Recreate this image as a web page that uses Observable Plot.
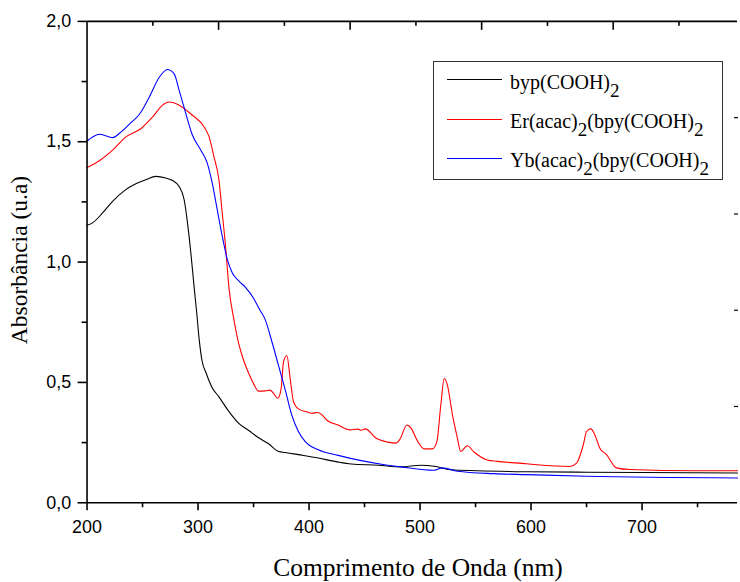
<!DOCTYPE html>
<html><head><meta charset="utf-8">
<script src="https://cdn.jsdelivr.net/npm/d3@7"></script>
<script src="https://cdn.jsdelivr.net/npm/@observablehq/plot@0.6"></script>
<style>
body{margin:0;background:#fff;}
#wrap{position:relative;width:740px;height:582px;overflow:hidden;background:#fff;}
#wrap svg{position:absolute;left:0;top:0;}
.lbl{position:absolute;font-family:"Liberation Serif","Times New Roman",serif;color:#000;white-space:nowrap;line-height:1;}
.sub{position:relative;top:8px;font-size:19px;}
#legend{position:absolute;left:433px;top:61px;width:290px;height:119px;border:1.3px solid #333;box-sizing:border-box;background:#fff;}
.key{position:absolute;left:447px;width:55px;height:0;border-top:1.2px solid;}
</style></head><body><div id="wrap"></div>
<script>
// ---- data (wavelength nm, absorbance) ----
const seriesNames = ["byp(COOH)2", "Er(acac)2(bpy(COOH)2", "Yb(acac)2(bpy(COOH)2"];
const seriesColors = ["#000000", "#ff0000", "#0000ff"];

const blackNm = [200,205,214,223,234,244,253,262,271,277,283,287.5,290.5,293.5,296.5,299,301,303.6,307.2,312.5,318.8,327.7,336.7,345.7,354.6,363.6,372.7,378.5,390.4,408.3,426.2,438.1,462.3,482.9,500.8,512.8,527.7,551.6,596.3,650,700,786];
const blackAbs = [1.153,1.163,1.204,1.252,1.298,1.325,1.342,1.356,1.349,1.339,1.314,1.259,1.163,1.039,0.895,0.78,0.68,0.59,0.54,0.48,0.44,0.38,0.33,0.30,0.27,0.245,0.213,0.209,0.2,0.186,0.169,0.161,0.156,0.149,0.156,0.152,0.137,0.133,0.129,0.127,0.126,0.124];

const redNm = [200,211.4,223.3,235.3,248.7,259.1,268,274,283,294.9,305.4,309.9,314.3,318.8,321.8,324.8,327.8,332.2,336.7,341.2,345.7,350,354.6,360.6,365,368,371.9,374.9,377,380,383,386,390.4,399.4,402.3,407.7,412.8,415.8,426.2,436.7,444.1,447.1,450.7,460.5,471,478.4,481.5,488.3,491.9,497.9,503.9,511.3,515.2,518.7,521.8,524.7,529.2,533.7,536.6,542.6,548.6,560.5,569.4,596.3,605.3,635,641,647.1,650,653.9,657.5,662,668,676.9,688.8,748.5,786];
const redAbs = [1.393,1.422,1.466,1.521,1.555,1.603,1.652,1.665,1.652,1.610,1.562,1.521,1.438,1.342,1.204,1.066,0.895,0.764,0.66,0.59,0.537,0.495,0.464,0.465,0.468,0.454,0.434,0.475,0.585,0.612,0.516,0.42,0.39,0.376,0.372,0.375,0.36,0.344,0.323,0.303,0.306,0.301,0.307,0.268,0.252,0.248,0.261,0.323,0.31,0.255,0.224,0.224,0.255,0.406,0.516,0.488,0.365,0.268,0.213,0.237,0.211,0.178,0.172,0.162,0.158,0.151,0.165,0.241,0.296,0.307,0.282,0.227,0.2,0.145,0.138,0.133,0.133];

const blueNm = [200,205.4,211.4,217.4,223.3,229.3,238.2,247.2,256.1,265.1,272.5,278.5,283,289,294.9,302.4,308.3,312.8,317.3,321.8,326.3,330.7,336.7,342.7,350,354.6,360.6,366.5,372.5,378.5,384.4,390.4,396.4,408.3,426.2,447.1,468,482.9,512.8,520.2,533.7,566.5,596.3,650,786];
const blueAbs = [1.503,1.521,1.531,1.524,1.517,1.535,1.573,1.614,1.686,1.768,1.8,1.782,1.713,1.617,1.528,1.466,1.411,1.328,1.218,1.108,1.012,0.957,0.922,0.895,0.85,0.81,0.76,0.67,0.57,0.47,0.365,0.296,0.255,0.22,0.197,0.175,0.158,0.149,0.135,0.145,0.131,0.121,0.117,0.11,0.103];

// ---- ticks ----
const xMajor = [200,300,400,500,600,700];
const xMinor = [250,350,450,550,650,750];
const yMajor = [0,0.5,1,1.5,2];
const yMinor = [0.25,0.75,1.25,1.75];
const topMajor = [318.5,437,555.5,674];
const topMinor = [259.3,377.8,496.3,614.8,733.3];
const rightTicks = [0.4,0.8,1.2,1.6];

const rows = [];
[[blackNm,blackAbs],[redNm,redAbs],[blueNm,blueAbs]].forEach(([xs,ys],i)=>{
  xs.forEach((x,j)=>rows.push({nm:x, abs:ys[j], s:seriesNames[i]}));
});

const chart = Plot.plot({
  width: 744, height: 582,
  marginLeft: 87, marginRight: 3, marginTop: 21, marginBottom: 77,
  style: {fontFamily: "'Liberation Sans', Arial, sans-serif", fontSize: "18px", color: "#000", background: "transparent"},
  x: {domain: [200, 786]},
  y: {domain: [0, 2]},
  color: {domain: seriesNames, range: seriesColors},
  marks: [
    Plot.line(rows, {x: "nm", y: "abs", z: "s", stroke: "s", strokeWidth: 1.1, curve: "monotone-x"}),
    Plot.ruleY([0, 2], {stroke: "#000", strokeWidth: 1.6}),
    Plot.ruleX([200], {stroke: "#000", strokeWidth: 1.6}),
    Plot.axisX({ticks: xMajor, tickSize: 8, tickPadding: 10, tickFormat: d => String(d), label: null, strokeWidth: 1.6}),
    Plot.axisX({ticks: xMinor, tickSize: 5, tickFormat: () => "", label: null, strokeWidth: 1.6}),
    Plot.axisX({anchor: "top", ticks: topMajor, tickSize: -8, tickFormat: () => "", label: null, strokeWidth: 1.6}),
    Plot.axisX({anchor: "top", ticks: topMinor, tickSize: -4, tickFormat: () => "", label: null, strokeWidth: 1.6}),
    Plot.axisY({ticks: yMajor, tickSize: 9, tickPadding: 7, tickFormat: d => d.toFixed(1).replace(".", ","), label: null, strokeWidth: 1.6}),
    Plot.axisY({ticks: yMinor, tickSize: 5, tickFormat: () => "", label: null, strokeWidth: 1.6}),
    Plot.axisY({anchor: "right", ticks: rightTicks, tickSize: -4, tickFormat: () => "", label: null, strokeWidth: 1.2})
  ]
});
const wrap = document.getElementById("wrap");
wrap.appendChild(chart);

function add(html, cls, css){ const d=document.createElement("div"); d.className=cls; d.innerHTML=html; Object.assign(d.style, css); wrap.appendChild(d); return d; }

// axis titles
add("Comprimento de Onda (nm)", "lbl", {left:"418px", top:"555px", fontSize:"25.5px", transform:"translateX(-50%)"});
add("Absorbância (u.a)", "lbl", {left:"20px", top:"260px", fontSize:"23.5px", transform:"translate(-50%,-50%) rotate(-90deg)"});

// legend
add("", "", {}).id = "legend";
const legendRows = [
  {html: "byp(COOH)<span class='sub'>2</span>", line: 79, top: 71.5},
  {html: "Er(acac)<span class='sub'>2</span>(bpy(COOH)<span class='sub'>2</span>", line: 118.7, top: 110.5},
  {html: "Yb(acac)<span class='sub'>2</span>(bpy(COOH)<span class='sub'>2</span>", line: 158, top: 150}
];
legendRows.forEach((r,i)=>{
  add("", "key", {top: r.line + "px", borderTopColor: seriesColors[i]});
  add(r.html, "lbl", {left: "510px", top: r.top + "px", fontSize: "20px"});
});
</script>
</body></html>
